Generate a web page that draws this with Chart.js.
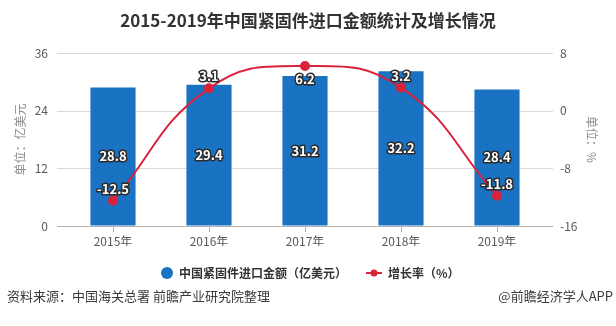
<!DOCTYPE html>
<html>
<head>
<meta charset="utf-8">
<script src="https://cdn.jsdelivr.net/npm/chart.js@4/dist/chart.umd.min.js"></script>
<style>
  html, body { margin: 0; padding: 0; background: #fff; }
  canvas { display: block; }
</style>
</head>
<body>
<canvas id="chart" width="616" height="326"></canvas>
<script>
const years = ["2015年", "2016年", "2017年", "2018年", "2019年"];
const importValue = [28.8, 29.4, 31.2, 32.2, 28.4];
const growthRate = [-12.5, 3.1, 6.2, 3.2, -11.8];
const leftTicks = [0, 12, 24, 36];
const rightTicks = [-16, -8, 0, 8];

const FONT = '"Noto Sans CJK SC", "Microsoft YaHei", sans-serif';
const BLUE = "#1a72c2";
const RED = "#d9233a";

// title, extended grid, value labels, legend and footer
const decor = {
    id: "decor",
    beforeDatasetsDraw(chart) {
        const ctx = chart.ctx;
        const y = chart.scales.y;
        const a = chart.chartArea;
        ctx.save();
        ctx.lineWidth = 1;
        ctx.strokeStyle = "#d9d9d9";
        leftTicks.forEach(function (t) {
            if (t === 0) return;
            const py = Math.round(y.getPixelForValue(t)) + 0.5;
            ctx.beginPath();
            ctx.moveTo(a.left - 8, py);
            ctx.lineTo(a.right + 8, py);
            ctx.stroke();
        });
        ctx.strokeStyle = "#b3b3b3";
        const by = Math.round(y.getPixelForValue(0)) + 0.5;
        ctx.beginPath();
        ctx.moveTo(a.left - 8, by);
        ctx.lineTo(a.right + 8, by);
        ctx.stroke();
        ctx.restore();
    },
    afterDatasetsDraw(chart) {
        const ctx = chart.ctx;
        ctx.save();
        ctx.font = "bold 13px " + FONT;
        ctx.textAlign = "center";
        ctx.textBaseline = "middle";
        ctx.lineJoin = "round";

        function outlined(text, x, y) {
            ctx.lineWidth = 3;
            ctx.strokeStyle = "#2b2b2b";
            ctx.strokeText(text, x, y);
            ctx.fillStyle = "#ffffff";
            ctx.fillText(text, x, y);
        }

        chart.getDatasetMeta(1).data.forEach(function (el, i) {
            outlined(importValue[i].toFixed(1), el.x, (el.y + el.base) / 2);
        });

        const maxRate = Math.max.apply(null, growthRate);
        chart.getDatasetMeta(0).data.forEach(function (el, i) {
            const v = growthRate[i];
            const dy = v === maxRate ? 13 : -12;
            outlined(v.toFixed(1), el.x, el.y + dy);
        });

        // title
        ctx.font = "bold 17px " + FONT;
        ctx.fillStyle = "#333333";
        ctx.fillText("2015-2019年中国紧固件进口金额统计及增长情况", 308, 21);

        // legend
        ctx.textAlign = "left";
        ctx.fillStyle = BLUE;
        ctx.beginPath();
        ctx.arc(167, 273, 6, 0, Math.PI * 2);
        ctx.fill();
        ctx.font = "bold 12px " + FONT;
        ctx.fillStyle = "#333333";
        ctx.fillText("中国紧固件进口金额（亿美元）", 179, 273);

        ctx.strokeStyle = RED;
        ctx.lineWidth = 2;
        ctx.beginPath();
        ctx.moveTo(366, 273);
        ctx.lineTo(382, 273);
        ctx.stroke();
        ctx.fillStyle = RED;
        ctx.beginPath();
        ctx.arc(374, 273, 3.5, 0, Math.PI * 2);
        ctx.fill();
        ctx.fillStyle = "#333333";
        ctx.fillText("增长率（%）", 388, 273);

        // footer
        ctx.font = "13px " + FONT;
        ctx.fillStyle = "#3a3a3a";
        ctx.fillText("资料来源：中国海关总署 前瞻产业研究院整理", 7, 296);
        ctx.textAlign = "right";
        ctx.fillText("@前瞻经济学人APP", 613, 296);
        ctx.restore();
    }
};

new Chart(document.getElementById("chart"), {
    data: {
        labels: years,
        datasets: [
            {
                type: "line",
                label: "增长率（%）",
                data: growthRate,
                yAxisID: "y1",
                borderColor: RED,
                backgroundColor: RED,
                borderWidth: 2,
                pointRadius: 4,
                pointHoverRadius: 4,
                pointBackgroundColor: RED,
                pointBorderColor: RED,
                tension: 0.45,
                order: 0
            },
            {
                type: "bar",
                label: "中国紧固件进口金额（亿美元）",
                data: importValue,
                yAxisID: "y",
                backgroundColor: BLUE,
                categoryPercentage: 1,
                barPercentage: 0.47,
                order: 1
            }
        ]
    },
    options: {
        responsive: false,
        devicePixelRatio: 1,
        animation: false,
        layout: { padding: { top: 53, bottom: 80, left: 0, right: 0 } },
        plugins: {
            legend: { display: false },
            tooltip: { enabled: false },
            title: { display: false }
        },
        scales: {
            x: {
                offset: true,
                grid: {
                    offset: false,
                    drawOnChartArea: false,
                    drawTicks: true,
                    tickLength: 6,
                    color: "#b3b3b3"
                },
                border: { display: false },
                ticks: {
                    padding: 2,
                    color: "#595959",
                    font: { family: FONT, size: 12 }
                },
                afterFit(scale) { scale.height = 20; }
            },
            y: {
                position: "left",
                min: 0,
                max: 36,
                afterBuildTicks(scale) {
                    scale.ticks = leftTicks.map(function (v) { return { value: v }; });
                },
                grid: { display: true, drawOnChartArea: false, drawTicks: false, color: "transparent" },
                border: { display: false },
                ticks: {
                    padding: 17,
                    color: "#595959",
                    font: { family: FONT, size: 12 }
                },
                title: {
                    display: true,
                    text: "单位：亿美元",
                    color: "#8c8c8c",
                    font: { family: FONT, size: 12 },
                    padding: { top: 13, bottom: 0 }
                },
                afterFit(scale) { scale.width = 65; }
            },
            y1: {
                position: "right",
                min: -16,
                max: 8,
                afterBuildTicks(scale) {
                    scale.ticks = rightTicks.map(function (v) { return { value: v }; });
                },
                grid: { display: true, drawOnChartArea: false, drawTicks: false, color: "transparent" },
                border: { display: false },
                ticks: {
                    padding: 15,
                    color: "#595959",
                    font: { family: FONT, size: 12 }
                },
                title: {
                    display: true,
                    text: "单位：%",
                    color: "#8c8c8c",
                    font: { family: FONT, size: 12 },
                    padding: { top: 17, bottom: 0 }
                },
                afterFit(scale) { scale.width = 71; }
            }
        }
    },
    plugins: [decor]
});
</script>
</body>
</html>
